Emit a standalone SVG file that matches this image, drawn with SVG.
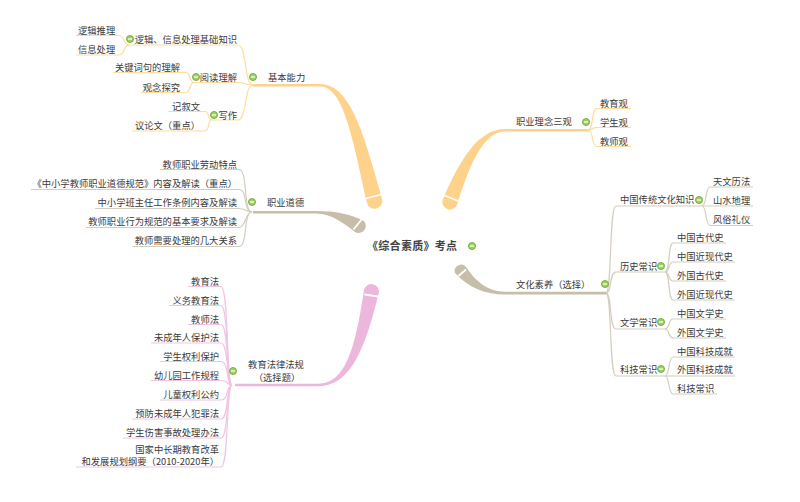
<svg xmlns="http://www.w3.org/2000/svg" width="800" height="502" viewBox="0 0 800 502">
<defs>
<style>
text{font-family:"Noto Sans CJK SC","Noto Sans",sans-serif;font-size:9.3px;fill:#3a3a3a}
.e{text-anchor:end}
.m{text-anchor:middle}
.root{font-size:11px;font-weight:bold;fill:#444;letter-spacing:0.3px}
.lo{fill:none;stroke:#FFDCA0;stroke-width:1.2}
.lg{fill:none;stroke:#D3CDBD;stroke-width:1.2}
.lp{fill:none;stroke:#F2C4E3;stroke-width:1.2}
.bo{fill:#FFD28C}
.bg{fill:#C6BEA9}
.bp{fill:#ECB7DA}
.st{stroke:#fff;stroke-width:1.8;fill:none}
</style>
<g id="ic"><circle r="3.5" fill="#9ED15F" stroke="#6EA83C" stroke-width="0.9"/><rect x="-2.1" y="-0.6" width="4.2" height="1.2" fill="#fff"/></g>
</defs>
<rect width="800" height="502" fill="#fff"/>
<g id="connectors">
<path class="bo" d="M253 84 L320 84 C348 84 362 125 382 199 A7.6 7.6 0 0 1 367 203 C352 135 343 86.5 320 86.5 L253 86.5 Z"/>
<line class="st" x1="366" y1="198.5" x2="381" y2="194.5"/>
<path class="bg" d="M253 211 L316 211 C336 211 350 214 364 221 A7.2 7.2 0 0 1 355 232 C343 223 332 213.5 316 213.5 L253 213.5 Z"/>
<line class="st" x1="353.5" y1="229.5" x2="362" y2="219"/>
<path class="bp" d="M235 383.8 L318 383.8 C345 383.5 355 350 364 290 A7.6 7.6 0 0 1 379 292 C365 350 350 386.3 318 386.3 L235 386.3 Z"/>
<line class="st" x1="364.5" y1="294.5" x2="378" y2="296.5"/>
<path class="bo" d="M590 129 L505 129 C478 129 460 160 443 199 A7.6 7.6 0 0 0 457 205 C468 170 482 131.5 505 131.5 L590 131.5 Z"/>
<line class="st" x1="444.5" y1="195.5" x2="458" y2="201"/>
<path class="bg" d="M607 291.8 L505 291.8 C488 291.5 476 282 466 267 A6.4 6.4 0 0 0 455 273 C468 287 484 294.5 505 294.5 L607 294.5 Z"/>
<line class="st" x1="458.5" y1="276" x2="466" y2="269.5"/>
<path class="lo" d="M253 85 C244 85 247 45 238 45 H128"/>
<path class="lo" d="M129 45 C123 45 125 35.5 119 35.5 H76"/>
<path class="lo" d="M129 45 C123 45 125 55 119 55 H76"/>
<path class="lo" d="M253 85 C246 85 245 82.5 238 82.5 H194"/>
<path class="lo" d="M194 82.5 C189 82.5 191 72.5 186 72.5 H113"/>
<path class="lo" d="M194 82.5 C189 82.5 191 92.5 186 92.5 H141"/>
<path class="lo" d="M253 85 C244 85 247 120 238 120 H212"/>
<path class="lo" d="M212 120 C207 120 210 111.5 205 111.5 H168"/>
<path class="lo" d="M212 120 C207 120 210 131 205 131 H132"/>
<path class="lg" d="M252 212 C243 212 248 169.5 239 169.5 H160"/>
<path class="lg" d="M252 212 C243 212 248 189.5 239 189.5 H31"/>
<path class="lg" d="M252 212 C245 212 246 208.5 239 208.5 H95"/>
<path class="lg" d="M252 212 C245 212 246 227.5 239 227.5 H86"/>
<path class="lg" d="M252 212 C243 212 248 246.5 239 246.5 H132"/>
<path class="lp" d="M232 385 C226 385 229 286.5 221 286.5 H188"/>
<path class="lp" d="M232 385 C226 385 229 305.5 221 305.5 H169"/>
<path class="lp" d="M232 385 C226 385 229 324.5 221 324.5 H188"/>
<path class="lp" d="M232 385 C226 385 229 343 221 343 H151"/>
<path class="lp" d="M232 385 C226 385 229 361.5 221 361.5 H160"/>
<path class="lp" d="M232 385 C226 385 229 380.5 221 380.5 H151"/>
<path class="lp" d="M232 385 C226 385 229 400 221 400 H160"/>
<path class="lp" d="M232 385 C226 385 229 419 221 419 H132"/>
<path class="lp" d="M232 385 C226 385 229 438 221 438 H123"/>
<path class="lp" d="M232 385 C226 385 229 467 221 467 H76"/>
<path class="lo" d="M588 130 C594 130 591 108.5 597 108.5 H631"/>
<path class="lo" d="M588 130 C594 130 591 127.5 597 127.5 H631"/>
<path class="lo" d="M588 130 C594 130 591 146.5 597 146.5 H631"/>
<path class="lg" d="M606 293 C612 293 609 206 616 206 H702"/>
<path class="lg" d="M606 293 C612 293 609 272 616 272 H665"/>
<path class="lg" d="M606 293 C612 293 609 329 616 329 H665"/>
<path class="lg" d="M606 293 C612 293 609 376 616 376 H665"/>
<path class="lg" d="M702 206 C707 206 705 187 710 187 H753"/>
<path class="lg" d="M702 206 H753"/>
<path class="lg" d="M702 206 C707 206 705 225.5 710 225.5 H753"/>
<path class="lg" d="M665 272 C670 272 668 243 673 243 H726"/>
<path class="lg" d="M665 272 C670 272 668 262 673 262 H735"/>
<path class="lg" d="M665 272 C670 272 668 281 673 281 H726"/>
<path class="lg" d="M665 272 C670 272 668 300 673 300 H735"/>
<path class="lg" d="M665 329 C670 329 668 319 673 319 H726"/>
<path class="lg" d="M665 329 C670 329 668 338 673 338 H726"/>
<path class="lg" d="M665 376 C670 376 668 357 673 357 H735"/>
<path class="lg" d="M665 376 H735"/>
<path class="lg" d="M665 376 C670 376 668 394 673 394 H717"/>
</g>
<g id="root"><text class="root" x="367" y="250">《综合素质》考点</text><use href="#ic" x="472" y="246"/></g>
<g id="n-jbnl"><text x="268" y="80.5">基本能力</text><use href="#ic" x="253" y="77"/></g>
<g id="n-ljxx"><text class="e" x="237" y="42.5">逻辑、信息处理基础知识</text><use href="#ic" x="130" y="39"/></g>
<g id="n-ljtl"><text x="78" y="33.5">逻辑推理</text></g>
<g id="n-xxcl"><text x="78" y="52.5">信息处理</text></g>
<g id="n-ydlj"><text class="e" x="237" y="80.5">阅读理解</text><use href="#ic" x="196" y="77"/></g>
<g id="n-gjcj"><text class="e" x="180" y="70.5">关键词句的理解</text></g>
<g id="n-gnts"><text class="e" x="180" y="90.5">观念探究</text></g>
<g id="n-xz"><text class="e" x="237" y="118.5">写作</text><use href="#ic" x="214" y="115"/></g>
<g id="n-jxw"><text class="e" x="200" y="109.5">记叙文</text></g>
<g id="n-ylw"><text class="e" x="200" y="128.5">议论文（重点）</text></g>
<g id="n-zydd"><text x="267" y="205.5">职业道德</text><use href="#ic" x="252" y="202"/></g>
<g id="n-zd1"><text class="e" x="237" y="167.5">教师职业劳动特点</text></g>
<g id="n-zd2"><text class="e" x="237" y="186.5">《中小学教师职业道德规范》内容及解读（重点）</text></g>
<g id="n-zd3"><text class="e" x="237" y="205.5">中小学班主任工作条例内容及解读</text></g>
<g id="n-zd4"><text class="e" x="237" y="224.5">教师职业行为规范的基本要求及解读</text></g>
<g id="n-zd5"><text class="e" x="237" y="243.5">教师需要处理的几大关系</text></g>
<g id="n-jyfl"><text class="m" x="276" y="368">教育法律法规</text><text class="m" x="277" y="380.5">（选择题）</text><use href="#ic" x="233" y="371"/></g>
<g id="n-f1"><text class="e" x="219" y="284.5">教育法</text></g>
<g id="n-f2"><text class="e" x="219" y="303.5">义务教育法</text></g>
<g id="n-f3"><text class="e" x="219" y="322.5">教师法</text></g>
<g id="n-f4"><text class="e" x="219" y="341">未成年人保护法</text></g>
<g id="n-f5"><text class="e" x="219" y="359.5">学生权利保护</text></g>
<g id="n-f6"><text class="e" x="219" y="378.5">幼儿园工作规程</text></g>
<g id="n-f7"><text class="e" x="219" y="398">儿童权利公约</text></g>
<g id="n-f8"><text class="e" x="219" y="417">预防未成年人犯罪法</text></g>
<g id="n-f9"><text class="e" x="219" y="436">学生伤害事故处理办法</text></g>
<g id="n-f10"><text class="e" x="219" y="452.5">国家中长期教育改革</text><text class="e" x="219" y="465">和发展规划纲要（2010-2020年）</text></g>
<g id="n-zyln"><text x="516" y="124.5">职业理念三观</text><use href="#ic" x="586" y="122"/></g>
<g id="n-l1"><text x="600" y="106.5">教育观</text></g>
<g id="n-l2"><text x="600" y="125.5">学生观</text></g>
<g id="n-l3"><text x="600" y="144.5">教师观</text></g>
<g id="n-whsy"><text x="516" y="287.5">文化素养（选择）</text><use href="#ic" x="605" y="284"/></g>
<g id="n-ctwh"><text x="620" y="202.5">中国传统文化知识</text><use href="#ic" x="699" y="200"/></g>
<g id="n-tw"><text x="713" y="184.5">天文历法</text></g>
<g id="n-ss"><text x="713" y="203.5">山水地理</text></g>
<g id="n-fs"><text x="713" y="222.5">风俗礼仪</text></g>
<g id="n-ls"><text x="620" y="269.5">历史常识</text><use href="#ic" x="661" y="266"/></g>
<g id="n-ls1"><text x="677" y="240.5">中国古代史</text></g>
<g id="n-ls2"><text x="677" y="259.5">中国近现代史</text></g>
<g id="n-ls3"><text x="677" y="278.5">外国古代史</text></g>
<g id="n-ls4"><text x="677" y="297.5">外国近现代史</text></g>
<g id="n-wx"><text x="620" y="325.5">文学常识</text><use href="#ic" x="661" y="322"/></g>
<g id="n-wx1"><text x="677" y="316.5">中国文学史</text></g>
<g id="n-wx2"><text x="677" y="335.5">外国文学史</text></g>
<g id="n-kj"><text x="620" y="372.5">科技常识</text><use href="#ic" x="661" y="369"/></g>
<g id="n-kj1"><text x="677" y="354.5">中国科技成就</text></g>
<g id="n-kj2"><text x="677" y="373">外国科技成就</text></g>
<g id="n-kj3"><text x="677" y="391.5">科技常识</text></g>
</svg>
